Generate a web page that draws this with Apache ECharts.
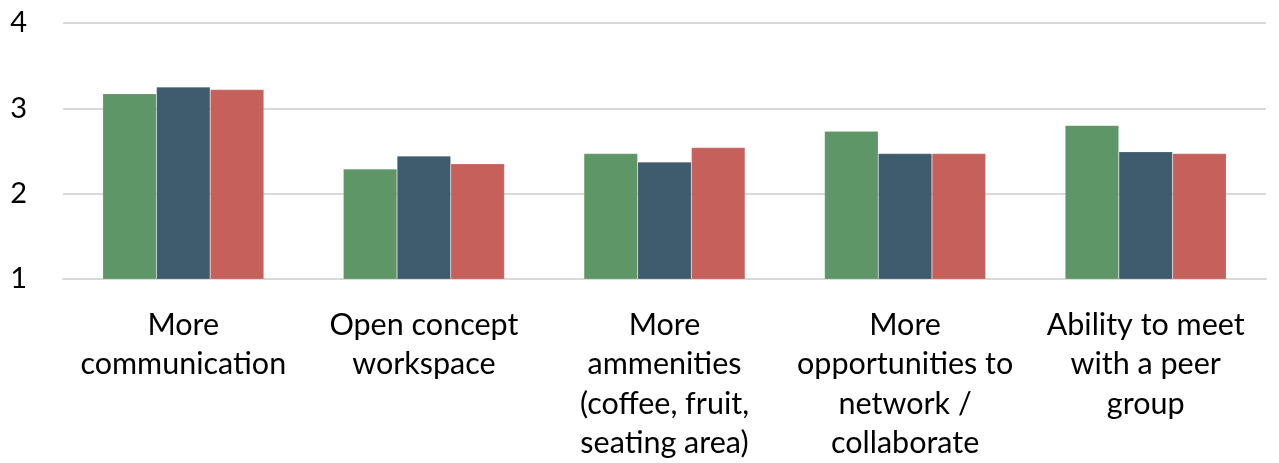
<!DOCTYPE html>
<html>
<head>
<meta charset="utf-8">
<style>
  html, body { margin: 0; padding: 0; background: #ffffff; }
  #chart { width: 1279px; height: 463px; }
</style>
<script src="https://cdn.jsdelivr.net/npm/echarts@6/dist/echarts.min.js"></script>
</head>
<body>
<div id="chart"></div>
<script>
// Workplace features, average rating per group
const categories = [
  'More\ncommunication',
  'Open concept\nworkspace',
  'More\nammenities\n(coffee, fruit,\nseating area)',
  'More\nopportunities to\nnetwork /\ncollaborate',
  'Ability to meet\nwith a peer\ngroup'
];
const groupA = [3.17, 2.29, 2.47, 2.73, 2.80];
const groupB = [3.25, 2.44, 2.37, 2.47, 2.49];
const groupC = [3.22, 2.35, 2.54, 2.47, 2.47];
const yTicks = [1, 2, 3, 4];

const colors = ['#5E9667', '#3F5B6E', '#C5605A'];
const fontFamily = 'Lato, "Open Sans", sans-serif';

const chart = echarts.init(document.getElementById('chart'));
const mkSeries = (name, data, color) => ({
  name, type: 'bar', data,
  barGap: '0%', barCategoryGap: '33%',
  itemStyle: { color, borderColor: 'rgba(255,255,255,0.35)', borderWidth: 0.5 },
  silent: true
});

chart.setOption({
  animation: false,
  grid: { left: 63, right: 13, top: 23, bottom: 180, containLabel: false },
  xAxis: {
    type: 'category',
    data: categories,
    axisLine: { show: true, lineStyle: { color: '#D9D9D9', width: 2 } },
    axisTick: { show: false },
    axisLabel: {
      interval: 0, margin: 26,
      color: '#000000', fontSize: 30.5, lineHeight: 39.5,
      fontFamily
    }
  },
  yAxis: {
    type: 'value',
    min: yTicks[0], max: yTicks[yTicks.length - 1], interval: 1,
    axisLine: { show: false },
    axisTick: { show: false },
    splitLine: { lineStyle: { color: '#D9D9D9', width: 2 } },
    axisLabel: { color: '#000000', fontSize: 29, margin: 36, fontFamily }
  },
  series: [
    mkSeries('Group A', groupA, colors[0]),
    mkSeries('Group B', groupB, colors[1]),
    mkSeries('Group C', groupC, colors[2])
  ]
});
</script>
</body>
</html>
